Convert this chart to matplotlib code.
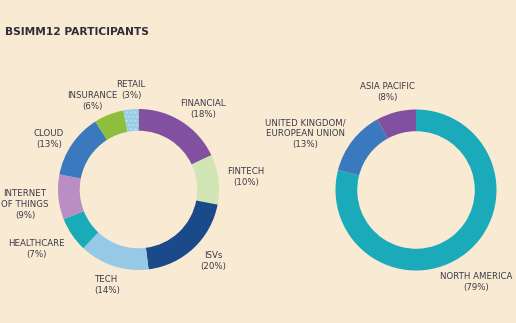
import matplotlib
matplotlib.use("Agg")
import matplotlib.pyplot as plt

# industry split (clockwise from 12 o'clock)
industries = ["FINANCIAL", "FINTECH", "ISVs", "TECH", "HEALTHCARE",
              "INTERNET\nOF THINGS", "CLOUD", "INSURANCE", "RETAIL"]
industry_pct = [18, 10, 20, 14, 7, 9, 13, 6, 3]
industry_colors = ["#8150A0", "#D2E5B5", "#1B4A8B", "#95C9E6", "#1AABB8",
                   "#B98EC4", "#3B79BF", "#8DBE3E", "#98CDE6"]

# region split
regions = ["NORTH AMERICA", "UNITED KINGDOM/\nEUROPEAN UNION", "ASIA PACIFIC"]
region_pct = [79, 13, 8]
region_colors = ["#1BAAB9", "#3B79BF", "#8150A0"]

bg = "#F9EAD3"
txt = "#3A3A48"
fs = 6.2
W, H = 516, 323

fig = plt.figure(figsize=(W / 100, H / 100), dpi=100, facecolor=bg)

def px_axes(cx, cy, r):
    return fig.add_axes([(cx - r) / W, (H - cy - r) / H, 2 * r / W, 2 * r / H])

def donut(ax, vals, cols):
    wedges, _ = ax.pie(vals, colors=cols, startangle=90, counterclock=False,
                       radius=1, wedgeprops=dict(width=0.27, linewidth=0))
    ax.set_xlim(-1, 1)
    ax.set_ylim(-1, 1)
    ax.set_aspect("equal")
    ax.axis("off")
    return wedges

ax1 = px_axes(138.5, 189.5, 80.5)
w1 = donut(ax1, industry_pct, industry_colors)
w1[-1].set_hatch("....")
w1[-1].set_edgecolor("#BDE0EE")

ax2 = px_axes(416, 190, 80.5)
donut(ax2, region_pct, region_colors)

def label(x, y, name, pct):
    fig.text(x / W, 1 - y / H, name + "\n(" + str(pct) + "%)", ha="center",
             va="top", fontsize=fs, color=txt, linespacing=1.3)

# label anchor positions (pixels, top of first line)
ind_pos = [(203, 99), (246, 167), (213, 251), (107, 275), (36, 239),
           (25, 189), (49, 129), (92, 91), (131, 80)]
for (x, y), n, p in zip(ind_pos, industries, industry_pct):
    if n == "RETAIL":
        fig.text(x / W, 1 - y / H, n, ha="center", va="top", fontsize=fs, color=txt)
        fig.text(x / W, 1 - (y + 11) / H, "(" + str(p) + "%)", ha="center",
                 va="top", fontsize=fs, color=txt)
    else:
        label(x, y, n, p)

reg_pos = [(476, 272), (305, 118), (387, 82)]
for (x, y), n, p in zip(reg_pos, regions, region_pct):
    label(x, y, n, p)

fig.text(5 / W, 1 - 32 / H, "BSIMM12 PARTICIPANTS", ha="left", va="center",
         fontsize=7.7, fontweight="bold", color="#2E2E3A")

fig.savefig("out.png", dpi=100, facecolor=bg)
